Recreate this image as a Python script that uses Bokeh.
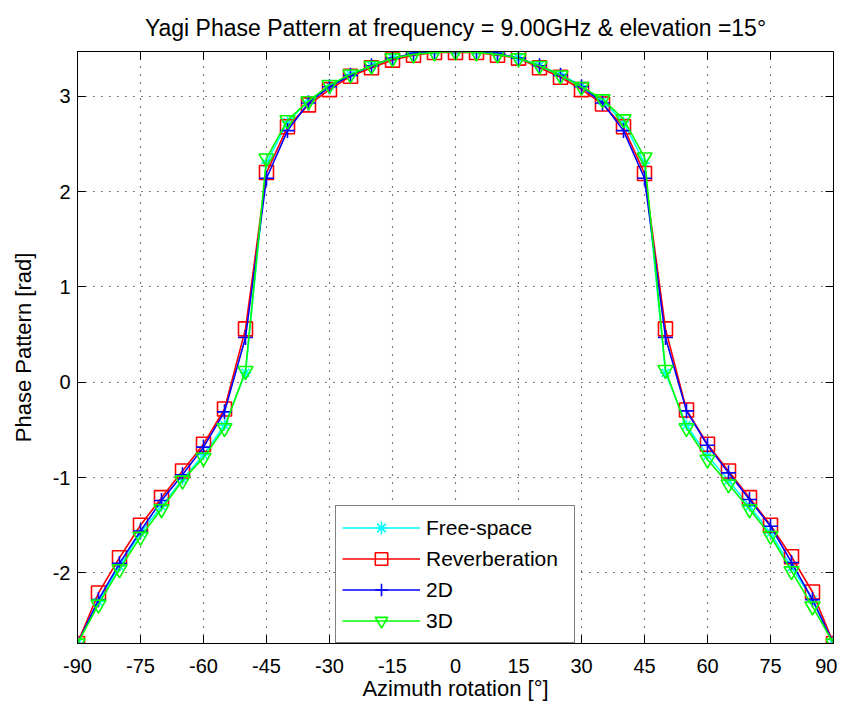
from bokeh.plotting import figure
from bokeh.models import Range1d, LinearAxis, FixedTicker, Legend, LegendItem
from bokeh.embed import file_html
from bokeh.resources import INLINE

azimuth = list(range(-90, 95, 5))

free_space = [-2.74, -2.30, -1.93, -1.58, -1.30, -1.02, -0.76, -0.45, 0.10, 2.30, 2.73,
              2.95, 3.11, 3.23, 3.32, 3.40, 3.45, 3.47, 3.47, 3.47, 3.45, 3.40, 3.32,
              3.23, 3.11, 2.95, 2.73, 2.30, 0.10, -0.45, -0.77, -1.03, -1.30, -1.58,
              -1.94, -2.28, -2.74]
reverberation = [-2.74, -2.21, -1.84, -1.50, -1.21, -0.93, -0.65, -0.28, 0.56, 2.20, 2.68,
                 2.91, 3.07, 3.21, 3.30, 3.38, 3.43, 3.46, 3.46, 3.46, 3.43, 3.40, 3.30,
                 3.20, 3.07, 2.92, 2.68, 2.19, 0.56, -0.29, -0.65, -0.93, -1.21, -1.50,
                 -1.83, -2.20, -2.74]
d2 = [-2.74, -2.28, -1.90, -1.56, -1.24, -0.97, -0.68, -0.31, 0.47, 2.14, 2.64,
      2.93, 3.10, 3.22, 3.32, 3.40, 3.45, 3.47, 3.47, 3.47, 3.45, 3.40, 3.32,
      3.22, 3.10, 2.93, 2.64, 2.14, 0.47, -0.30, -0.66, -0.95, -1.23, -1.51,
      -1.89, -2.28, -2.74]
d3 = [-2.74, -2.33, -1.96, -1.62, -1.33, -1.03, -0.79, -0.48, 0.12, 2.35, 2.75,
      2.95, 3.12, 3.23, 3.32, 3.40, 3.44, 3.46, 3.47, 3.46, 3.44, 3.40, 3.32,
      3.22, 3.10, 2.97, 2.76, 2.36, 0.13, -0.48, -0.81, -1.07, -1.33, -1.61,
      -1.98, -2.35, -2.74]

x_ticks = list(range(-90, 91, 15))
y_ticks = [-2, -1, 0, 1, 2, 3]
x_tick_labels = {t: str(t) for t in x_ticks}
y_tick_labels = {t: str(t) for t in y_ticks}

FONT = "Liberation Sans"

p = figure(width=837, height=703, output_backend="svg", toolbar_location=None,
           x_range=Range1d(-90, 90), y_range=Range1d(-2.74, 3.47),
           min_border_left=77, min_border_right=4, min_border_top=51, min_border_bottom=56)
p.background_fill_color = "white"
p.border_fill_color = "white"
p.outline_line_color = "black"
p.outline_line_width = 1

p.title.text = "Yagi Phase Pattern at frequency = 9.00GHz & elevation =15°"
p.title.align = "center"
p.title.text_font = FONT
p.title.text_font_size = "23px"
p.title.text_font_style = "normal"
p.title.text_color = "black"
p.title.standoff = 21

for ax in (p.xaxis[0], p.yaxis[0]):
    ax.major_tick_in = 8
    ax.major_tick_out = 0
    ax.minor_tick_line_color = None
    ax.axis_line_color = "black"
    ax.major_tick_line_color = "black"
    ax.major_label_text_font = FONT
    ax.major_label_text_font_size = "20px"
    ax.major_label_text_color = "black"
    ax.axis_label_text_font = FONT
    ax.axis_label_text_font_size = "22px"
    ax.axis_label_text_font_style = "normal"
    ax.axis_label_text_color = "black"

p.xaxis[0].ticker = FixedTicker(ticks=x_ticks)
p.yaxis[0].ticker = FixedTicker(ticks=y_ticks)
p.xaxis[0].major_label_overrides = x_tick_labels
p.yaxis[0].major_label_overrides = y_tick_labels
p.xaxis[0].axis_label = "Azimuth rotation [°]"
p.yaxis[0].axis_label = "Phase Pattern [rad]"
p.xaxis[0].major_label_standoff = 15
p.yaxis[0].major_label_standoff = 7
p.xaxis[0].axis_label_standoff = 0
p.yaxis[0].axis_label_standoff = 14

top = LinearAxis(ticker=FixedTicker(ticks=x_ticks), major_tick_in=8, major_tick_out=0,
                 minor_tick_line_color=None, major_label_text_color=None,
                 axis_line_color="black", major_label_standoff=0)
right = LinearAxis(ticker=FixedTicker(ticks=y_ticks), major_tick_in=8, major_tick_out=0,
                   minor_tick_line_color=None, major_label_text_color=None,
                   axis_line_color="black", major_label_standoff=0)
p.add_layout(top, "above")
p.add_layout(right, "right")

p.grid.grid_line_color = "black"
p.grid.grid_line_dash = "1 7"
p.grid.grid_line_width = 1.2
p.xgrid[0].ticker = FixedTicker(ticks=x_ticks)
p.ygrid[0].ticker = FixedTicker(ticks=y_ticks)

LW = 1.6
series = [
    ("Free-space", free_space, "#00FFFF", "asterisk", 11),
    ("Reverberation", reverberation, "#FF0000", "square", 14),
    ("2D", d2, "#0000FF", "cross", 15),
    ("3D", d3, "#00FF00", "inverted_triangle", 15),
]
items = []
for name, ys, col, mk, sz in series:
    lr = p.line(azimuth, ys, line_color=col, line_width=LW)
    mr = p.scatter(azimuth, ys, marker=mk, size=sz, line_color=col, fill_color=None,
                   line_width=LW)
    items.append(LegendItem(label=name, renderers=[lr, mr]))

legend = Legend(items=items, location="bottom_center", orientation="vertical",
                border_line_color="black", border_line_width=1,
                background_fill_color="white", background_fill_alpha=1,
                label_text_font=FONT, label_text_font_size="21px", label_text_color="black",
                glyph_width=78, glyph_height=31, label_height=31, label_width=142,
                label_standoff=6, spacing=0, padding=6, margin=0)
p.add_layout(legend, "center")

open("out.html", "w").write(file_html(p, INLINE))
